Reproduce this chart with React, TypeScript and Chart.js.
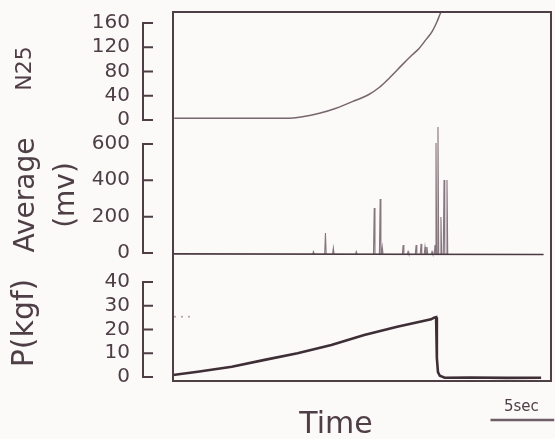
import React, { useEffect, useRef } from 'react';
import { Chart, registerables } from 'chart.js';

Chart.register(...registerables);

// ---------- data (time in seconds) ----------
const n25Times = [0.1, 9.17, 10.48, 11.85, 13.2, 14.52, 15.89, 16.69, 17.5, 18.55, 19.35, 19.92, 20.46, 20.97, 21.37, 21.59, 21.77];
const n25Values = [2.8, 2.8, 5.4, 11, 19.3, 30.2, 42.4, 53.5, 68.8, 90.8, 107, 118, 132, 145.7, 162, 173, 181];

const avgBaseTimes = [0, 30.0];
const avgBaseValues = [-5, -8];
const spikeTimes = [11.37, 12.34, 12.98, 14.84, 16.29, 16.77, 16.94, 18.63, 19.03, 19.68, 20.08, 20.4, 20.56, 20.97, 21.21, 21.29, 21.45, 21.69, 21.94, 22.18];
const spikeValues = [8, 110, 28, 8, 248, 297, 33, 44, 8, 44, 50, 33, 33, 8, 44, 605, 693, 198, 402, 402];

const pTimes = [0, 2.0, 4.76, 7.42, 10.08, 12.82, 15.48, 18.15, 20.89, 21.13, 21.3, 21.36, 21.45, 21.6, 22.0, 24, 27, 29.8];
const pValues = [0.8, 2.2, 4.3, 7.2, 10, 13.5, 17.7, 21.2, 24.3, 25.0, 25.2, 8, 2, 0.5, -0.3, -0.2, -0.4, -0.3];

const refTimes = [0.16, 0.73, 1.29];
const refValues = [25.4, 25.4, 25.4];

const n25Ticks = [0, 40, 80, 120, 160];
const avgTicks = [0, 200, 400, 600];
const pTicks = [0, 10, 20, 30, 40];

const scaleBarStart = 25.7;
const scaleBarLength = 5;

// ---------- style ----------
const BG = '#fcf9f9';
const INK = '#4e3e46';
const FONT = "'DejaVu Sans', sans-serif";

const toPts = (xs: number[], ys: number[]) => xs.map((x, i) => ({ x, y: ys[i] }));

function spikePoints() {
  const d = 0.06;
  const out: { x: number; y: number | null }[] = [];
  spikeTimes.forEach((t, i) => {
    out.push({ x: t - d, y: -5 });
    out.push({ x: t, y: spikeValues[i] });
    out.push({ x: t + d, y: -5 });
    out.push({ x: t + d, y: null });
  });
  return out;
}

const framePlugin = {
  id: 'frame',
  afterDraw(chart: any) {
    const { ctx, chartArea: a, scales } = chart;
    ctx.save();
    ctx.strokeStyle = INK;
    ctx.lineWidth = 2;
    ctx.strokeRect(a.left, a.top, a.right - a.left, a.bottom - a.top);

    // bracket-style axes
    const brackets: [string, number[]][] = [['yN', n25Ticks], ['yA', avgTicks], ['yP', pTicks]];
    ctx.lineWidth = 2;
    ctx.lineCap = 'butt';
    for (const [id, ticks] of brackets) {
      const s = scales[id];
      const x0 = a.left - 30;
      const yTop = s.getPixelForValue(ticks[ticks.length - 1]);
      const yBot = s.getPixelForValue(ticks[0]);
      ctx.beginPath();
      ctx.moveTo(x0, yTop);
      ctx.lineTo(x0, yBot);
      for (const v of ticks) {
        const y = s.getPixelForValue(v);
        ctx.moveTo(x0 - 1, y);
        ctx.lineTo(x0 + 10, y);
      }
      ctx.stroke();
    }

    // time label
    const xs = scales.x;
    ctx.fillStyle = INK;
    ctx.font = `30px ${FONT}`;
    ctx.textAlign = 'center';
    ctx.textBaseline = 'alphabetic';
    ctx.fillText('Time', 336, 433);

    // scale bar
    const x1 = xs.getPixelForValue(scaleBarStart);
    const x2 = xs.getPixelForValue(scaleBarStart + scaleBarLength);
    ctx.strokeStyle = '#6e5e66';
    ctx.lineWidth = 2.5;
    ctx.beginPath();
    ctx.moveTo(x1, 420);
    ctx.lineTo(x2 + 2, 420);
    ctx.stroke();
    ctx.font = `15px ${FONT}`;
    ctx.fillStyle = INK;
    ctx.fillText('5sec', (x1 + x2) / 2, 411);
    ctx.restore();
  },
};

function yAxis(opts: any) {
  return {
    type: 'linear',
    position: 'left',
    stack: 'panels',
    stackWeight: opts.weight,
    min: opts.min,
    max: opts.max,
    afterBuildTicks: (s: any) => {
      s.ticks = opts.ticks.map((v: number) => ({ value: v }));
    },
    afterFit: (s: any) => {
      s.width = 173;
      s.paddingTop = 0;
      s.paddingBottom = 0;
    },
    ticks: {
      padding: 43,
      autoSkip: false,
      color: INK,
      font: { family: FONT, size: 20 },
      callback: (v: number) => String(v),
    },
    grid: { display: false, drawTicks: false },
    border: { display: false },
    title: {
      display: true,
      text: opts.title,
      color: INK,
      font: { family: FONT, size: opts.titleSize, lineHeight: opts.lineHeight ?? 1.2 },
      padding: { top: opts.titlePad, bottom: 0 },
    },
  };
}

export default function App() {
  const ref = useRef<HTMLCanvasElement | null>(null);

  useEffect(() => {
    if (!ref.current) return;
    const chart = new Chart(ref.current, {
      type: 'scatter',
      data: {
        datasets: [
          {
            data: toPts(n25Times, n25Values),
            yAxisID: 'yN',
            showLine: true,
            borderColor: '#76666e',
            borderWidth: 1.5,
            pointRadius: 0,
            cubicInterpolationMode: 'monotone',
          },
          {
            data: toPts(avgBaseTimes, avgBaseValues),
            yAxisID: 'yA',
            showLine: true,
            borderColor: '#4a3a42',
            borderWidth: 1.6,
            pointRadius: 0,
          },
          {
            data: spikePoints(),
            yAxisID: 'yA',
            showLine: true,
            spanGaps: false,
            borderColor: '#86767e',
            borderWidth: 1.1,
            pointRadius: 0,
          },
          {
            data: toPts(pTimes, pValues),
            yAxisID: 'yP',
            showLine: true,
            borderColor: '#3e2e36',
            borderWidth: 2.6,
            pointRadius: 0,
          },
          {
            data: toPts(refTimes, refValues),
            yAxisID: 'yP',
            showLine: false,
            pointRadius: 1,
            pointBackgroundColor: '#a89aa0',
            pointBorderWidth: 0,
          },
        ] as any,
      },
      options: {
        animation: false,
        responsive: true,
        maintainAspectRatio: false,
        events: [],
        layout: { padding: { left: 0, right: 3, top: 12, bottom: 58 } },
        plugins: { legend: { display: false }, tooltip: { enabled: false } },
        scales: {
          x: { type: 'linear', min: 0, max: 30.6, display: false },
          yP: yAxis({ weight: 116, min: -1.7, max: 47.2, ticks: pTicks, title: 'P(kgf)', titleSize: 30, titlePad: 7 }),
          yA: yAxis({ weight: 140, min: -66, max: 704, ticks: avgTicks, title: ['Average', '(mv)'], titleSize: 28, lineHeight: 1.45, titlePad: 6 }),
          yN: yAxis({ weight: 113, min: -8.3, max: 178, ticks: n25Ticks, title: 'N25', titleSize: 22, titlePad: 12 }),
        } as any,
      },
      plugins: [framePlugin],
    });
    return () => chart.destroy();
  }, []);

  return (
    <div style={{ position: 'fixed', left: 0, top: 0, width: 555, height: 439, background: BG }}>
      <canvas ref={ref} />
    </div>
  );
}
